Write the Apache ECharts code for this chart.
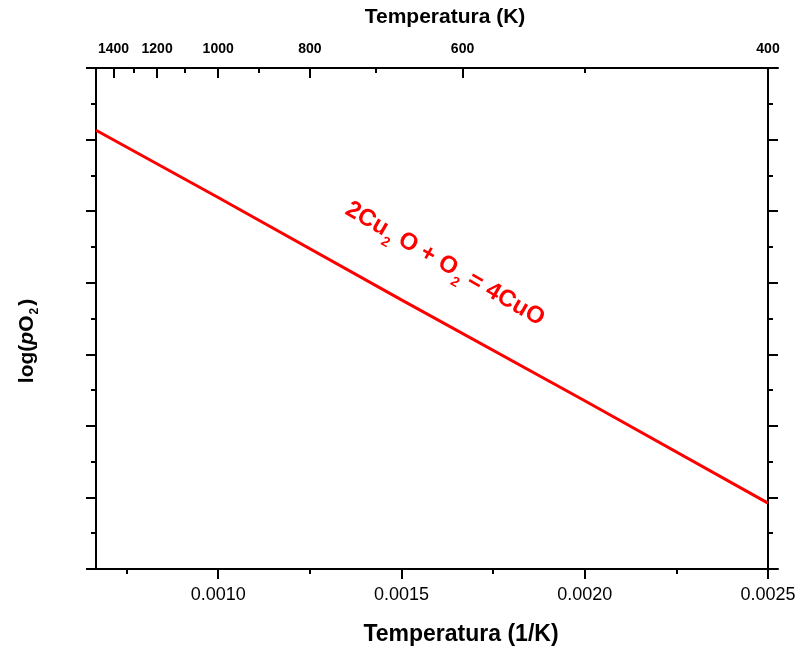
<!DOCTYPE html>
<html>
<head>
<meta charset="utf-8">
<script src="https://cdn.jsdelivr.net/npm/echarts@6/dist/echarts.min.js"></script>
<style>
html,body{margin:0;padding:0;background:#fff;}
#chart{width:800px;height:652px;}
</style>
</head>
<body>
<div id="chart"></div>
<script>
// ---- data ----
const invT = [1/1500, 0.0010, 0.0015, 0.0020, 0.0025];      // 1/K
const logPO2 = [6.13, 5.19, 3.76, 2.35, 0.92];              // arbitrary units (no labels)
const bottomMajor = [0.0010, 0.0015, 0.0020, 0.0025];
const bottomMinor = [0.00075, 0.00125, 0.00175, 0.00225];
const topTempMajor = [1400, 1200, 1000, 800, 600, 400];
const topTempMinor = [1300, 1100, 900, 700, 500];
const xMin = 1/1500, xMax = 0.0025;
const yMin = 0, yMax = 7;

const FONT = "'Liberation Sans', Arial, sans-serif";
const BLACK = '#000';
const chart = echarts.init(document.getElementById('chart'), null, {renderer: 'canvas'});

const hidden = {show: false};
const baseX = {type: 'value', min: xMin, max: xMax, gridIndex: 0, splitLine: hidden};

const option = {
  animation: false,
  backgroundColor: '#fff',
  grid: [
    {left: 96, right: 32, top: 68, bottom: 83},
    {left: 87, right: 22, top: 68, bottom: 83}
  ],
  xAxis: [
    // bottom main axis
    Object.assign({}, baseX, {
      position: 'bottom',
      axisLine: {show: true, onZero: false, lineStyle: {color: BLACK, width: 2}},
      axisTick: {show: true, customValues: bottomMajor, length: 10, lineStyle: {color: BLACK, width: 2}},
      axisLabel: {show: true, customValues: bottomMajor, margin: 17, color: BLACK, fontSize: 18, fontFamily: FONT,
        formatter: v => v.toFixed(4)},
      name: 'Temperatura (1/K)', nameLocation: 'middle', nameGap: 54,
      nameTextStyle: {fontSize: 23, fontWeight: 'bold', color: BLACK, fontFamily: FONT, padding: [0, 0, 0, 58]}
    }),
    // bottom minor ticks
    Object.assign({}, baseX, {
      position: 'bottom',
      axisLine: {show: false, onZero: false},
      axisTick: {show: true, customValues: bottomMinor, length: 5, lineStyle: {color: BLACK, width: 2}},
      axisLabel: hidden
    }),
    // top main axis (temperature)
    Object.assign({}, baseX, {
      position: 'top',
      axisLine: {show: true, onZero: false, lineStyle: {color: BLACK, width: 2}},
      axisTick: {show: true, inside: true, customValues: topTempMajor.map(t => 1/t), length: 10,
        lineStyle: {color: BLACK, width: 2}},
      axisLabel: {show: true, customValues: topTempMajor.map(t => 1/t), margin: 12, color: BLACK,
        fontSize: 14, fontWeight: 'bold', fontFamily: FONT,
        formatter: v => String(Math.round(1/v))},
      name: 'Temperatura (K)', nameLocation: 'middle', nameGap: 40,
      nameTextStyle: {fontSize: 21, fontWeight: 'bold', color: BLACK, fontFamily: FONT, padding: [0, 0, 0, 26]}
    }),
    // top minor ticks
    Object.assign({}, baseX, {
      position: 'top',
      axisLine: {show: false, onZero: false},
      axisTick: {show: true, inside: true, customValues: topTempMinor.map(t => 1/t), length: 5,
        lineStyle: {color: BLACK, width: 2}},
      axisLabel: hidden
    }),
    // extended frame lines (grid 1)
    {type: 'value', gridIndex: 1, position: 'bottom', min: 0, max: 1, splitLine: hidden,
      axisLine: {show: true, onZero: false, lineStyle: {color: BLACK, width: 2}}, axisTick: hidden, axisLabel: hidden},
    {type: 'value', gridIndex: 1, position: 'top', min: 0, max: 1, splitLine: hidden,
      axisLine: {show: true, onZero: false, lineStyle: {color: BLACK, width: 2}}, axisTick: hidden, axisLabel: hidden}
  ],
  yAxis: [
    {type: 'value', gridIndex: 0, position: 'left', min: yMin, max: yMax, interval: 1, splitLine: hidden,
      axisLine: {show: true, onZero: false, lineStyle: {color: BLACK, width: 2}},
      axisTick: {show: true, length: 10, lineStyle: {color: BLACK, width: 2}},
      minorTick: {show: true, splitNumber: 2, length: 5, lineStyle: {color: BLACK, width: 2}},
      minorSplitLine: hidden,
      axisLabel: hidden},
    {type: 'value', gridIndex: 0, position: 'right', min: yMin, max: yMax, interval: 1, splitLine: hidden,
      axisLine: {show: true, onZero: false, lineStyle: {color: BLACK, width: 2}},
      axisTick: {show: true, length: 10, lineStyle: {color: BLACK, width: 2}},
      minorTick: {show: true, splitNumber: 2, length: 5, lineStyle: {color: BLACK, width: 2}},
      minorSplitLine: hidden,
      axisLabel: hidden},
    {type: 'value', gridIndex: 1, show: false, min: 0, max: 1}
  ],
  series: [{
    type: 'line',
    xAxisIndex: 0, yAxisIndex: 0,
    data: invT.map((x, i) => [x, logPO2[i]]),
    showSymbol: false,
    lineStyle: {color: '#ff0000', width: 3},
    z: 5
  }],
  graphic: [
    {
      type: 'text', x: 27, y: 341, rotation: Math.PI / 2,
      style: {
        text: '{a|log(}{i|p}{a|O}{s|2}{a|)}',
        align: 'center', verticalAlign: 'middle',
        rich: {
          a: {fontSize: 21, fontWeight: 'bold', fontFamily: FONT, fill: BLACK, verticalAlign: 'middle'},
          i: {fontSize: 21, fontWeight: 'bold', fontStyle: 'italic', fontFamily: FONT, fill: BLACK, verticalAlign: 'middle'},
          s: {fontSize: 12, fontWeight: 'bold', fontFamily: FONT, fill: BLACK, verticalAlign: 'middle', padding: [16, 2, 0, 1]}
        }
      }
    },
    {
      type: 'text', x: 445, y: 264, rotation: -30 * Math.PI / 180,
      style: {
        text: '{a|2Cu}{s|2}{a| O + O}{s|2}{a| = 4CuO}',
        align: 'center', verticalAlign: 'middle',
        rich: {
          a: {fontSize: 24, fontWeight: 'bold', fontFamily: FONT, fill: '#ff0000', verticalAlign: 'middle'},
          s: {fontSize: 14, fontWeight: 'bold', fontFamily: FONT, fill: '#ff0000', verticalAlign: 'middle', padding: [22, 0, 0, 1]}
        }
      }
    }
  ]
};
chart.setOption(option);
</script>
</body>
</html>
